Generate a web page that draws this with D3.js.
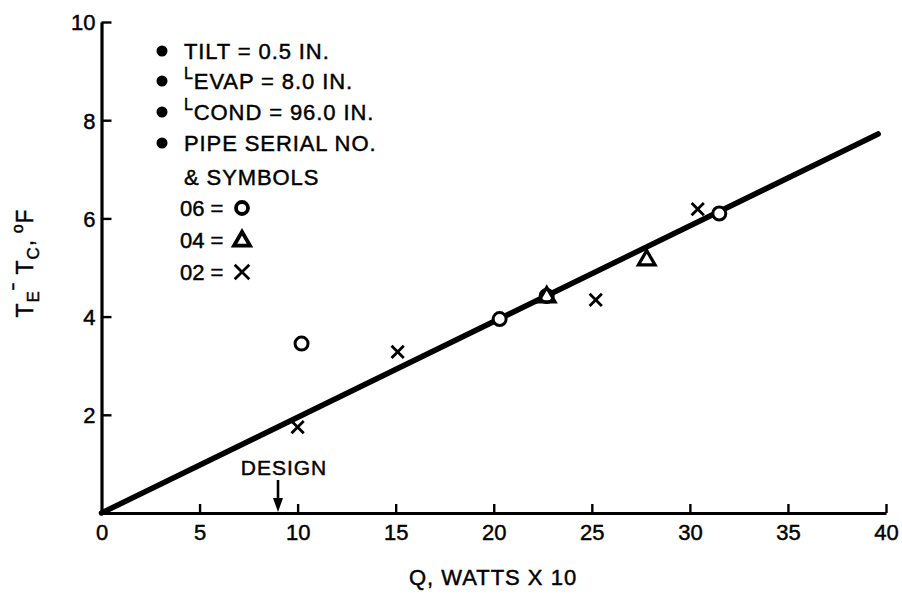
<!DOCTYPE html>
<html>
<head>
<meta charset="utf-8">
<script src="https://cdn.jsdelivr.net/npm/d3@7"></script>
<style>
  body { margin: 0; background: #fff; }
  text { font-family: "Liberation Sans", Arial, Helvetica, sans-serif; fill: #000; stroke: #000; stroke-width: 0.45px; }
</style>
</head>
<body>
<div id="chart"></div>
<script>
// values
const qTicks = [0, 5, 10, 15, 20, 25, 30, 35, 40];
const dtTicks = [2, 4, 6, 8, 10];

// pipe 06 = circle, 04 = triangle, 02 = cross
const pipe06Q = [10.2, 20.3, 22.7, 31.5];
const pipe06DT = [3.45, 3.95, 4.42, 6.10];
const pipe04Q = [22.7, 27.8];
const pipe04DT = [4.42, 5.17];
const pipe02Q = [10.0, 15.1, 25.2, 30.4];
const pipe02DT = [1.75, 3.28, 4.34, 6.19];

// fitted line
const fitQ = [0, 39.6];
const fitDT = [0, 7.72];

const designQ = 9;

const notes = ["TILT = 0.5 IN.", "EVAP = 8.0 IN.", "COND = 96.0 IN.", "PIPE SERIAL NO."];
const notePrefix = ["", "L", "L", ""];
const symbolRows = ["06 =", "04 =", "02 ="];

const WIDTH = 902, HEIGHT = 598;

var svg = d3.select("#chart").append("svg")
    .attr("width", WIDTH)
    .attr("height", HEIGHT);

var x = d3.scaleLinear().domain([0, 40]).range([101.5, 886]);
var y = d3.scaleLinear().domain([0, 10]).range([513, 22]);

// axes, ticks point inward
var xAxis = svg.append("g")
    .attr("transform", "translate(0," + y(0) + ")")
    .call(d3.axisBottom(x).tickValues(qTicks).tickSizeInner(-9).tickSizeOuter(0).tickPadding(11));
var yAxis = svg.append("g")
    .attr("transform", "translate(" + x(0) + ",0)")
    .call(d3.axisLeft(y).tickValues(dtTicks).tickSizeInner(-10).tickSizeOuter(0).tickPadding(6));

[xAxis, yAxis].forEach(g => {
    g.select(".domain").attr("stroke", "#000").attr("stroke-width", 3.2);
    g.selectAll(".tick line").attr("stroke", "#000").attr("stroke-width", 2.4);
    g.selectAll(".tick text")
        .style("font-size", "22px")
        .style("font-family", '"Liberation Sans", Arial, sans-serif')
        .attr("fill", "#000");
});
xAxis.select(".tick line").remove();  // no tick at origin
yAxis.selectAll(".tick text").attr("dy", "0.36em");

// fitted line
var fitData = fitQ.map((q, i) => ({q: q, dt: fitDT[i]}));
svg.append("path")
    .datum(fitData)
    .attr("d", d3.line().x(d => x(d.q)).y(d => y(d.dt)))
    .attr("stroke", "#000")
    .attr("stroke-width", 5.5)
    .attr("stroke-linecap", "round")
    .attr("fill", "none");

// markers
var circles = pipe06Q.map((q, i) => ({q: q, dt: pipe06DT[i]}));
var triangles = pipe04Q.map((q, i) => ({q: q, dt: pipe04DT[i]}));
var crosses = pipe02Q.map((q, i) => ({q: q, dt: pipe02DT[i]}));

svg.append("g").selectAll("circle")
    .data(circles)
    .enter()
    .append("circle")
    .attr("cx", d => x(d.q))
    .attr("cy", d => y(d.dt))
    .attr("r", 6.5)
    .attr("fill", "#fff")
    .attr("stroke", "#000")
    .attr("stroke-width", 3);

var tri = d3.symbol().type(d3.symbolTriangle).size(120);
svg.append("g").selectAll("path")
    .data(triangles)
    .enter()
    .append("path")
    .attr("d", tri)
    .attr("transform", d => "translate(" + x(d.q) + "," + (y(d.dt) + 1) + ")")
    .attr("fill", "none")
    .attr("stroke", "#000")
    .attr("stroke-width", 3.2);

var cross = d3.symbol().type(d3.symbolX).size(100);
svg.append("g").selectAll("path")
    .data(crosses)
    .enter()
    .append("path")
    .attr("d", cross)
    .attr("transform", d => "translate(" + x(d.q) + "," + y(d.dt) + ")")
    .attr("fill", "none")
    .attr("stroke", "#000")
    .attr("stroke-width", 2.8);

// design arrow
svg.append("text")
    .attr("x", x(designQ) + 6)
    .attr("y", 475)
    .attr("text-anchor", "middle")
    .style("font-size", "21px")
    .style("letter-spacing", "1px")
    .text("DESIGN");
svg.append("line")
    .attr("x1", x(designQ)).attr("x2", x(designQ))
    .attr("y1", 480).attr("y2", y(0) - 10)
    .attr("stroke", "#000").attr("stroke-width", 2.6);
svg.append("path")
    .attr("d", "M" + (x(designQ) - 5) + "," + (y(0) - 15) + "L" + (x(designQ) + 5) + "," + (y(0) - 15) + "L" + x(designQ) + "," + (y(0) - 1) + "Z")
    .attr("fill", "#000");

// notes block
var legend = svg.append("g");
var rowY = [59, 89, 120, 151];
notes.forEach((t, i) => {
    legend.append("circle")
        .attr("cx", 162).attr("cy", rowY[i] - 8).attr("r", 5.5).attr("fill", "#000");
    var txt = legend.append("text")
        .attr("x", 184).attr("y", rowY[i])
        .style("font-size", "22px")
        .style("letter-spacing", "0.9px");
    if (notePrefix[i]) {
        txt.append("tspan").text(notePrefix[i]).style("font-size", "16px").attr("dy", -10);
        txt.append("tspan").text(t).attr("dy", 10);
    } else {
        txt.text(t);
    }
});
legend.append("text")
    .attr("x", 184).attr("y", 185)
    .style("font-size", "22px")
    .style("letter-spacing", "0.9px")
    .text("& SYMBOLS");

var symY = [216, 248, 280];
symbolRows.forEach((t, i) => {
    legend.append("text")
        .attr("x", 180).attr("y", symY[i])
        .style("font-size", "22px")
        .text(t);
});
var sx = 242;
legend.append("circle")
    .attr("cx", sx).attr("cy", symY[0] - 8).attr("r", 6)
    .attr("fill", "none").attr("stroke", "#000").attr("stroke-width", 3.8);
legend.append("path")
    .attr("d", d3.symbol().type(d3.symbolTriangle).size(110))
    .attr("transform", "translate(" + sx + "," + (symY[1] - 7) + ")")
    .attr("fill", "none").attr("stroke", "#000").attr("stroke-width", 3.8);
legend.append("path")
    .attr("d", d3.symbol().type(d3.symbolX).size(140))
    .attr("transform", "translate(" + sx + "," + (symY[2] - 8) + ")")
    .attr("fill", "none").attr("stroke", "#000").attr("stroke-width", 2.8);

// axis titles
svg.append("text")
    .attr("x", 493).attr("y", 585)
    .attr("text-anchor", "middle")
    .style("font-size", "22px")
    .style("letter-spacing", "1px")
    .text("Q, WATTS X 10");

var yt = svg.append("text")
    .attr("transform", "translate(33,263) rotate(-90)")
    .attr("text-anchor", "middle")
    .style("font-size", "23px")
    .style("letter-spacing", "1px");
yt.append("tspan").text("T");
yt.append("tspan").text("E").style("font-size", "17px").attr("dy", 6);
yt.append("tspan").text("ˉ ").attr("dy", -10);
yt.append("tspan").text("T").attr("dy", 4);
yt.append("tspan").text("C").style("font-size", "17px").attr("dy", 6);
yt.append("tspan").text(",").attr("dy", -6);
yt.append("tspan").text(" o").style("font-size", "16px").attr("dy", -10);
yt.append("tspan").text("F").attr("dy", 10);
</script>
</body>
</html>
